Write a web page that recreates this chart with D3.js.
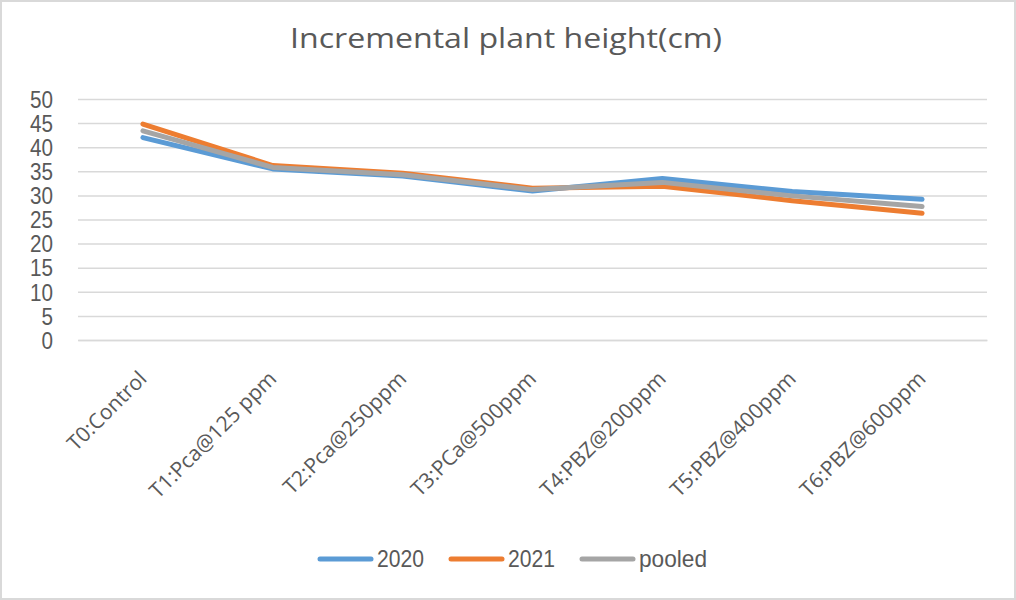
<!DOCTYPE html>
<html><head><meta charset="utf-8">
<script src="https://cdn.jsdelivr.net/npm/d3@7"></script>
<style>body{margin:0;background:#fff}svg{display:block}</style>
</head><body>
<script>
const categories = ["T0:Control","T1:Pca@125 ppm","T2:Pca@250ppm","T3:PCa@500ppm","T4:PBZ@200ppm","T5:PBZ@400ppm","T6:PBZ@600ppm"];
const v2020 = [42.0, 35.5, 34.0, 30.9, 33.5, 30.8, 29.2];
const v2021 = [44.8, 36.2, 34.6, 31.5, 31.9, 28.9, 26.3];
const vPooled = [43.4, 35.8, 34.3, 31.2, 32.7, 29.9, 27.7];
const yTicks = [0,5,10,15,20,25,30,35,40,45,50];
const seriesNames = ["2020","2021","pooled"];
const colors = ["#5B9BD5","#ED7D31","#A5A5A5"];

(function(){
const W=1016,H=600;
const sans="'Liberation Sans',Arial,sans-serif";
const svg=d3.select("body").append("svg").attr("width",W).attr("height",H);
svg.append("rect").attr("x",1).attr("y",1).attr("width",W-2).attr("height",H-2).attr("fill","#fff").attr("stroke","#d9d9d9").attr("stroke-width",2);

const pl=78,pr=987,pt=99,pb=340;
const x=d3.scaleBand().domain(categories).range([pl,pr]);
const y=d3.scaleLinear().domain([0,50]).range([pb,pt]);

svg.append("text").attr("x",290).attr("y",48)
  .attr("font-family","'Open Sans',sans-serif").attr("font-size",28).attr("fill","#595959")
  .attr("textLength",432).attr("lengthAdjust","spacingAndGlyphs").text("Incremental plant height(cm)");

const gy=svg.append("g").attr("transform",`translate(${pl},0)`)
  .call(d3.axisLeft(y).tickValues(yTicks).tickSize(-(pr-pl)).tickPadding(25));
gy.select(".domain").remove();
gy.selectAll(".tick line").attr("stroke","#d9d9d9").attr("stroke-width",1.5);
gy.selectAll(".tick text").attr("font-family",sans).attr("font-size",23).attr("fill","#595959").attr("dy","0.36em")
  .attr("textLength",d=>String(d).length*11.5).attr("lengthAdjust","spacingAndGlyphs");

const gx=svg.append("g").attr("transform",`translate(0,${pb})`).call(d3.axisBottom(x).tickSize(0));
gx.select(".domain").attr("stroke","#d9d9d9").attr("stroke-width",1.5);
gx.selectAll(".tick text").attr("font-family","'Open Sans',sans-serif").attr("font-size",21)
  .attr("fill","#595959").attr("text-anchor","end").attr("dy",0)
  .attr("transform","translate(5,40) rotate(-45)").attr("y",0).attr("x",0);

const data=[v2020,v2021,vPooled];
const line=d3.line().x((d,i)=>x(categories[i])+x.bandwidth()/2).y(d=>y(d));
data.forEach((vals,k)=>{
  svg.append("path").datum(vals).attr("d",line).attr("fill","none").attr("stroke",colors[k])
    .attr("stroke-width",5).attr("stroke-linecap","round").attr("stroke-linejoin","round");
});

const legX=[318,449,580];
const legW=[47,47,68];
seriesNames.forEach((n,k)=>{
  const g=svg.append("g").attr("transform",`translate(${legX[k]},559)`);
  g.append("line").attr("x1",2).attr("x2",53).attr("y1",0).attr("y2",0).attr("stroke",colors[k]).attr("stroke-width",5).attr("stroke-linecap","round");
  g.append("text").attr("x",59).attr("y",8).attr("font-family",sans).attr("font-size",24).attr("fill","#595959")
    .attr("textLength",legW[k]).attr("lengthAdjust","spacingAndGlyphs").text(n);
});
})();
</script>
</body></html>
